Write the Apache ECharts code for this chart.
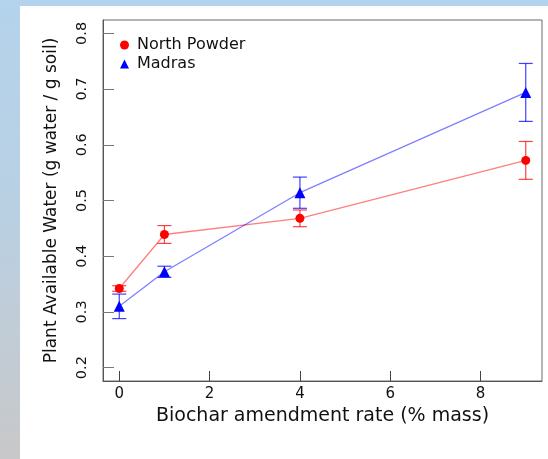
<!DOCTYPE html>
<html>
<head>
<meta charset="utf-8">
<script src="https://cdn.jsdelivr.net/npm/echarts@6/dist/echarts.min.js"></script>
<style>
  html, body { margin: 0; padding: 0; }
  body {
    width: 548px; height: 459px; overflow: hidden; position: relative;
    background: linear-gradient(to bottom, #b4d3ec 0%, #b9d0e3 45%, #c8c8c9 100%);
  }
  #panel { position: absolute; left: 20px; top: 6px; right: 0; bottom: 0; background: #fff; }
  #chart { position: absolute; left: 0; top: 0; width: 548px; height: 459px; }
</style>
</head>
<body>
<div id="panel"></div>
<div id="chart"></div>
<script>
// 生物炭添加比例 (% mass)
var rates = [0, 1, 4, 9];
// North Powder 土壤
var northPowder = [0.342, 0.439, 0.468, 0.572];
var northPowderErr = [0.005, 0.016, 0.015, 0.034];
// Madras 土壤
var madras = [0.310, 0.372, 0.514, 0.694];
var madrasErr = [0.022, 0.010, 0.028, 0.052];

var xTicks = [0, 2, 4, 6, 8];
var yTicks = [0.2, 0.3, 0.4, 0.5, 0.6, 0.7, 0.8];

var font = 'DejaVu Sans';

(function()
{
	var mychart = echarts.init(document.getElementById('chart'), null, {renderer: 'canvas'});

	function pairs(ys) {
		return rates.map((x, i) => [x, ys[i]]);
	}
	function errData(ys, errs) {
		return rates.map((x, i) => [x, ys[i] - errs[i], ys[i] + errs[i]]);
	}
	// 误差线
	function errorSeries(name, data, color) {
		return {
			name: name,
			type: 'custom',
			z: 3,
			data: data,
			itemStyle: {color: color},
			renderItem: function(params, api) {
				var lo = api.coord([api.value(0), api.value(1)]);
				var hi = api.coord([api.value(0), api.value(2)]);
				var w = 7;
				var style = {stroke: color, lineWidth: 1.2};
				return {
					type: 'group',
					children: [
						{type: 'line', shape: {x1: lo[0], y1: lo[1], x2: hi[0], y2: hi[1]}, style: style},
						{type: 'line', shape: {x1: lo[0] - w, y1: lo[1], x2: lo[0] + w, y2: lo[1]}, style: style},
						{type: 'line', shape: {x1: hi[0] - w, y1: hi[1], x2: hi[0] + w, y2: hi[1]}, style: style}
					]
				};
			}
		};
	}

	var option = {
		animation: false,
		grid: {
			left: 103, right: 6, top: 20, bottom: 78,
			show: true, borderColor: '#6a6a6a', borderWidth: 1
		},
		legend: {
			orient: 'vertical',
			left: 115, top: 32,
			itemWidth: 9, itemHeight: 9,
			itemGap: 3,
			textStyle: {fontFamily: font, fontSize: 16, color: '#111', padding: [0, 0, 0, 3]},
			data: [
				{name: 'North Powder', icon: 'circle', itemStyle: {color: '#ff0000'}},
				{name: 'Madras', icon: 'triangle', itemStyle: {color: '#0000ff'}}
			]
		},
		xAxis: {
			type: 'value',
			min: -0.36, max: 9.36,
			name: 'Biochar amendment rate (% mass)',
			nameLocation: 'middle',
			nameGap: 25,
			nameTextStyle: {fontFamily: font, fontSize: 19, color: '#111'},
			axisLine: {show: true, onZero: false, lineStyle: {color: '#555'}},
			axisTick: {show: true, inside: true, length: 10, customValues: xTicks, lineStyle: {color: '#444'}},
			axisLabel: {customValues: xTicks, margin: 6, fontFamily: font, fontSize: 15, color: '#111'},
			splitLine: {show: false}
		},
		yAxis: {
			type: 'value',
			min: 0.176, max: 0.824,
			name: 'Plant Available Water (g water / g soil)',
			nameLocation: 'middle',
			nameGap: 43,
			nameTextStyle: {fontFamily: font, fontSize: 17, color: '#111'},
			axisLine: {show: true, onZero: false, lineStyle: {color: '#555'}},
			axisTick: {show: true, inside: true, length: 11, customValues: yTicks, lineStyle: {color: '#777'}},
			axisLabel: {
				customValues: yTicks, rotate: 90, margin: 13,
				fontFamily: font, fontSize: 14.5, color: '#111',
				formatter: function(v) { return v.toFixed(1); }
			},
			splitLine: {show: false}
		},
		series: [
			{
				name: 'North Powder',
				type: 'line',
				z: 4,
				data: pairs(northPowder),
				symbol: 'circle',
				symbolSize: 9,
				itemStyle: {color: '#ff0000'},
				lineStyle: {color: 'rgba(255,0,0,0.5)', width: 1.3}
			},
			{
				name: 'Madras',
				type: 'line',
				z: 4,
				data: pairs(madras),
				symbol: 'triangle',
				symbolSize: 11,
				itemStyle: {color: '#0000ff'},
				lineStyle: {color: 'rgba(0,0,255,0.5)', width: 1.3}
			},
			errorSeries('North Powder', errData(northPowder, northPowderErr), 'rgba(255,0,0,0.75)'),
			errorSeries('Madras', errData(madras, madrasErr), 'rgba(0,0,255,0.75)')
		]
	};
	mychart.setOption(option);
})();
</script>
</body>
</html>
